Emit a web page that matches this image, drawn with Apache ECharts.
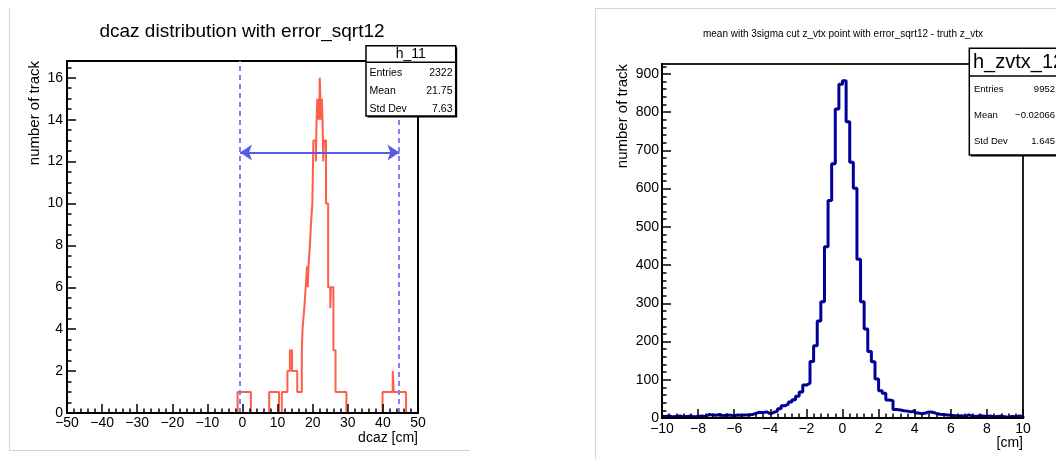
<!DOCTYPE html>
<html><head><meta charset="utf-8">
<script src="https://cdn.jsdelivr.net/npm/echarts@6/dist/echarts.min.js"></script>
<style>html,body{margin:0;padding:0;background:#fff}#c{width:1056px;height:459px}</style>
</head><body><div id="c"></div>
<script>
// ---- left histogram: dcaz (bin edges and counts)
const leftEdges = [-50, -1.4, 2.4, 7.6, 10.4, 11.2, 12.8, 13.5, 14.1, 15.6,
  16.9, 17.1, 17.6, 18.0, 18.4, 18.6, 18.8, 19.2, 19.5, 19.9,
  20.2, 20.9, 21.1, 21.3, 21.5, 21.7, 21.9, 22.0, 22.2, 22.4,
  22.6, 22.8, 23.0, 23.2, 23.8, 24.4, 25.0, 25.2, 25.9, 26.5,
  29.6, 39.9, 42.8, 43.1, 46.6, 50];
const leftCounts = [0, 1, 0, 1, 0, 1, 2, 3, 2, 1,
  3, 4, 5, 6, 7, 6, 7, 8, 9, 10,
  13, 12, 14, 15, 14, 15, 14, 16, 15, 14,
  15, 14, 12, 13, 10, 6, 5, 6, 3, 1,
  0, 1, 2, 1, 0];
const cutLow = -0.9, cutHigh = 44.6;       // dashed lines
const arrowFrom = -0.7, arrowTo = 44.7, arrowY = 12.43;
const leftYMajor = [0, 2, 4, 6, 8, 10, 12, 14, 16];
const leftStats = [["Entries", "2322"], ["Mean", "21.75"], ["Std Dev", "7.63"]];

// ---- right histogram: z_vtx residual, 100 bins of 0.2 from -10
const rightBinLow = -10, rightBinWidth = 0.2;
const rightCounts = [
  4, 5, 3, 4, 5, 3, 4, 5, 3, 4,
  5, 4, 9, 8, 7, 9, 6, 8, 7, 6,
  8, 7, 8, 8, 9, 12, 15, 14, 16, 11,
  15, 18, 24, 32, 36, 42, 48, 57, 68, 86,
  91, 148, 189, 254, 304, 448, 569, 665, 808, 873,
  882, 775, 669, 601, 415, 304, 233, 174, 147, 102,
  71, 65, 47, 45, 22, 21, 19, 18, 16, 19,
  13, 11, 13, 16, 15, 12, 10, 9, 8, 7,
  6, 5, 6, 4, 8, 5, 4, 6, 5, 4,
  5, 3, 4, 5, 3, 2, 4, 3, 5, 4];
const rightYMajor = [0, 100, 200, 300, 400, 500, 600, 700, 800, 900];
const rightStats = [["Entries", "9952"], ["Mean", "\u22120.02066"], ["Std Dev", "1.645"]];

const FONT = "'Liberation Sans', Arial, Helvetica, sans-serif";

const leftPts = leftCounts.map((c, i) => [leftEdges[i], c]);
leftPts.push([leftEdges[leftEdges.length - 1], 0]);
const rightPts = rightCounts.map((c, i) => [rightBinLow + i * rightBinWidth, c]);
rightPts.push([rightBinLow + rightCounts.length * rightBinWidth, 0]);

const leftYMinor = [];
for (let v = 0.5; v <= 16.8; v += 0.5) if (v % 2 !== 0) leftYMinor.push(v);
const rightYMinor = [];
for (let v = 20; v <= 926; v += 20) if (v % 100 !== 0) rightYMinor.push(v);

const minusFmt = v => String(v).replace('-', '\u2212');
const tickStyle = {color: '#000', width: 1.5};

function xAx(grid, min, max, interval, margin) {
  return {gridIndex: grid, type: 'value', min, max, interval, z: 5,
    axisLine: {show: true, onZero: false, lineStyle: {color: '#000', width: 2}},
    axisTick: {show: true, inside: true, length: 9, lineStyle: tickStyle},
    minorTick: {show: true, splitNumber: 5, length: 4.5, lineStyle: tickStyle},
    splitLine: {show: false}, minorSplitLine: {show: false},
    axisLabel: {fontSize: 14, color: '#000', fontFamily: FONT, margin, formatter: minusFmt,
      showMinLabel: true, showMaxLabel: true}};
}
function yMajor(grid, max, vals, margin) {
  return {gridIndex: grid, type: 'value', min: 0, max, position: 'left', z: 5,
    axisLine: {show: true, onZero: false, lineStyle: {color: '#000', width: 2}},
    axisTick: {show: true, inside: true, length: 9, lineStyle: tickStyle, customValues: vals},
    axisLabel: {fontSize: 14, color: '#000', fontFamily: FONT, margin, customValues: vals},
    splitLine: {show: false}};
}
function yMinor(grid, max, vals) {
  return {gridIndex: grid, type: 'value', min: 0, max, position: 'left', z: 5,
    axisLine: {show: false, onZero: false},
    axisTick: {show: true, inside: true, length: 4.5, lineStyle: tickStyle, customValues: vals},
    axisLabel: {show: false}, splitLine: {show: false}};
}

function statsBox(x, y, w, h, divY, title, titleX, titleAlign, titleSize, rows, rowYs, labX, valX, fs) {
  const els = [
    {type: 'rect', z: 100, shape: {x: x + 1.5, y: y + 1.5, width: w, height: h}, style: {fill: '#000'}},
    {type: 'rect', z: 101, shape: {x, y, width: w, height: h}, style: {fill: '#fff', stroke: '#000', lineWidth: 1.5}},
    {type: 'line', z: 102, shape: {x1: x, y1: divY, x2: x + w, y2: divY}, style: {stroke: '#000', lineWidth: 1.5}},
    {type: 'text', z: 103, x: titleX, y: (y + divY) / 2, style: {text: title, fontSize: titleSize, fontFamily: FONT,
      fill: '#000', align: titleAlign, verticalAlign: 'middle'}}
  ];
  rows.forEach((r, i) => {
    els.push({type: 'text', z: 103, x: labX, y: rowYs[i], style: {text: r[0], fontSize: fs, fontFamily: FONT, fill: '#000', align: 'left', verticalAlign: 'middle'}});
    els.push({type: 'text', z: 103, x: valX, y: rowYs[i], style: {text: r[1], fontSize: fs, fontFamily: FONT, fill: '#000', align: 'right', verticalAlign: 'middle'}});
  });
  return els;
}

const graphics = [
  // canvas borders
  {type: 'line', shape: {x1: 9.5, y1: 8, x2: 9.5, y2: 451}, style: {stroke: '#d4d4d4', lineWidth: 1}},
  {type: 'line', shape: {x1: 9.5, y1: 450.5, x2: 470, y2: 450.5}, style: {stroke: '#d4d4d4', lineWidth: 1}},
  {type: 'line', shape: {x1: 595.5, y1: 8, x2: 595.5, y2: 459}, style: {stroke: '#d4d4d4', lineWidth: 1}},
  {type: 'line', shape: {x1: 595.5, y1: 8.5, x2: 1056, y2: 8.5}, style: {stroke: '#d4d4d4', lineWidth: 1}},
  // titles
  {type: 'text', x: 242, y: 32, style: {text: 'dcaz distribution with error_sqrt12', fontSize: 19, fontFamily: FONT, fill: '#000', align: 'center', verticalAlign: 'middle'}},
  {type: 'text', x: 843, y: 34, style: {text: 'mean with 3sigma cut z_vtx point with error_sqrt12 - truth z_vtx', fontSize: 10, fontFamily: FONT, fill: '#000', align: 'center', verticalAlign: 'middle'}},
  // axis titles
  {type: 'text', x: 418, y: 438, style: {text: 'dcaz [cm]', fontSize: 14, fontFamily: FONT, fill: '#000', align: 'right', verticalAlign: 'middle'}},
  {type: 'text', x: 1023, y: 443, style: {text: '[cm]', fontSize: 14, fontFamily: FONT, fill: '#000', align: 'right', verticalAlign: 'middle'}},
  {type: 'text', x: 35, y: 61, rotation: Math.PI / 2, style: {text: 'number of track', fontSize: 15, fontFamily: FONT, fill: '#000', align: 'right', verticalAlign: 'middle'}},
  {type: 'text', x: 623, y: 64, rotation: Math.PI / 2, style: {text: 'number of track', fontSize: 15, fontFamily: FONT, fill: '#000', align: 'right', verticalAlign: 'middle'}}
].concat(
  statsBox(366, 45.7, 89.7, 70.3, 62.3, 'h_11', 410.8, 'center', 14, leftStats, [73.5, 91, 109], 369.5, 452.5, 10.5),
  statsBox(969.3, 48.3, 110, 106.7, 76, 'h_zvtx_12', 973, 'left', 20, rightStats, [89, 115.7, 141.7], 974, 1055, 9.5)
);

const option = {
  animation: false,
  backgroundColor: '#fff',
  grid: [
    {left: 67, top: 61, width: 351, height: 352, show: true, borderColor: '#000', borderWidth: 2, backgroundColor: 'transparent'},
    {left: 662, top: 64, width: 361, height: 354, show: true, borderColor: '#222', borderWidth: 2, backgroundColor: 'transparent'}
  ],
  xAxis: [xAx(0, -50, 50, 10, 3), xAx(1, -10, 10, 2, 4)],
  yAxis: [yMajor(0, 16.8, leftYMajor, 4), yMinor(0, 16.8, leftYMinor),
          yMajor(1, 926, rightYMajor, 3), yMinor(1, 926, rightYMinor)],
  series: [
    {type: 'line', name: 'h_11', xAxisIndex: 0, yAxisIndex: 0, data: leftPts, step: 'end',
      symbol: 'none', showSymbol: false, z: 3, lineStyle: {color: '#ff5f4a', width: 2},
      markLine: {silent: true, symbol: ['none', 'none'], label: {show: false}, animation: false,
        lineStyle: {color: '#7f7fff', type: [5, 4], width: 2},
        data: [[{coord: [cutLow, 0]}, {coord: [cutLow, 16.8]}], [{coord: [cutHigh, 0]}, {coord: [cutHigh, 16.8]}]]}},
    {type: 'line', name: 'arrow', xAxisIndex: 0, yAxisIndex: 0, data: [], z: 4,
      markLine: {silent: true, symbol: ['arrow', 'arrow'], symbolSize: 12, label: {show: false}, animation: false,
        lineStyle: {color: '#5a5ae8', type: 'solid', width: 2}, itemStyle: {color: '#5a5ae8'},
        data: [[{coord: [arrowFrom, arrowY]}, {coord: [arrowTo, arrowY]}]]}},
    {type: 'line', name: 'h_zvtx_12', xAxisIndex: 1, yAxisIndex: 2, data: rightPts, step: 'end',
      symbol: 'none', showSymbol: false, z: 3, lineStyle: {color: '#000099', width: 3}}
  ],
  graphic: graphics
};
echarts.init(document.getElementById('c')).setOption(option);
</script></body></html>
